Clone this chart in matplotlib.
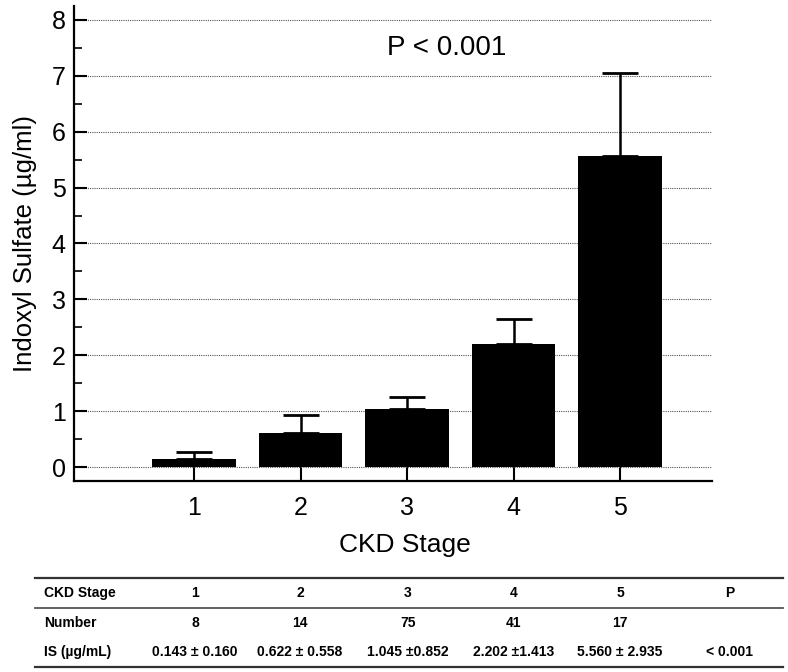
import matplotlib
matplotlib.use("Agg")
import matplotlib.pyplot as plt
from matplotlib.ticker import MultipleLocator

stages = [1, 2, 3, 4, 5]
means = [0.143, 0.61, 1.03, 2.20, 5.56]
errs = [0.13, 0.32, 0.22, 0.45, 1.50]

table_header = ["CKD Stage", "1", "2", "3", "4", "5", "P"]
table_number = ["Number", "8", "14", "75", "41", "17", ""]
table_is = ["IS (\u00b5g/mL)", "0.143 \u00b1 0.160", "0.622 \u00b1 0.558", "1.045 \u00b10.852",
            "2.202 \u00b11.413", "5.560 \u00b1 2.935", "< 0.001"]

plt.rcParams['font.family'] = ['Liberation Sans', 'DejaVu Sans']

fig = plt.figure(figsize=(7.88, 6.72), dpi=100)
ax = fig.add_axes([74/788, 1 - 481/672, (712-74)/788, (481-6)/672])

ax.bar(stages, means, width=0.78, color='black', zorder=3)
ax.errorbar(stages, means, yerr=[[0]*5, errs], fmt='none', ecolor='black',
            elinewidth=1.8, capsize=13, capthick=2, zorder=4)

ax.set_xlim(1 - 120/106.5, 5 + 92/106.5)
ax.set_ylim(-0.25, 8.25)
ax.set_xticks(stages)
ax.yaxis.set_major_locator(MultipleLocator(1))
ax.yaxis.set_minor_locator(MultipleLocator(0.5))
ax.grid(axis='y', which='major', linestyle=(0, (1, 1)), color='#555555', linewidth=0.8, zorder=0)

for s in ['top', 'right']:
    ax.spines[s].set_visible(False)
for s in ['left', 'bottom']:
    ax.spines[s].set_linewidth(1.6)

ax.tick_params(axis='x', direction='in', length=10, width=1.5, labelsize=18, pad=11)
ax.tick_params(axis='y', which='major', direction='in', length=9, width=1.5, labelsize=18, pad=6)
ax.tick_params(axis='y', which='minor', direction='in', length=6, width=1.2)

ax.set_ylabel("Indoxyl Sulfate (\u00b5g/ml)", fontsize=18.5)
ax.yaxis.set_label_coords(-49/638, 0.5)
ax.set_xlabel("CKD Stage", fontsize=19)
ax.xaxis.set_label_coords((405-74)/638, -(545-481)/475)
ax.xaxis.label.set_va('center')
ax.yaxis.label.set_va('center')
ax.text(3.375, 7.5, "P < 0.001", fontsize=20, ha='center', va='center')

# table below
tfont = dict(family=['Liberation Sans Narrow', 'Liberation Sans', 'DejaVu Sans'],
             fontsize=10, fontweight='bold')
col_x = [44, 195, 300, 408, 514, 620, 730]
row_y = [593, 623, 652]
for row, y in zip([table_header, table_number, table_is], row_y):
    for i, (txt, x) in enumerate(zip(row, col_x)):
        fig.text(x/788, 1 - y/672, txt, ha='left' if i == 0 else 'center', va='center', **tfont)

for yr, c, w in [(578, '#333333', 1.6), (608, '#555555', 1.3), (667, '#333333', 1.6)]:
    fig.add_artist(plt.Line2D([35/788, 783/788], [1 - yr/672, 1 - yr/672], color=c, lw=w))

fig.savefig("out.png", dpi=100)
